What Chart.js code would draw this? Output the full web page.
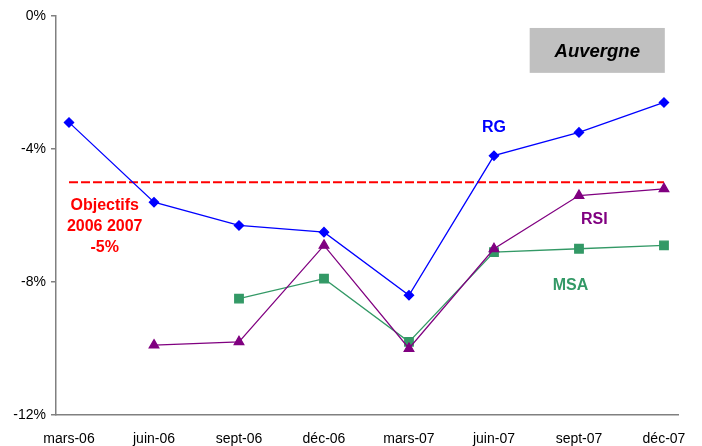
<!DOCTYPE html>
<html><head><meta charset="utf-8">
<script src="https://cdn.jsdelivr.net/npm/chart.js@4.4.1/dist/chart.umd.min.js"></script>
<style>html,body{margin:0;padding:0;background:#fff;}#wrap{width:702px;height:446px;}</style>
</head><body><div id="wrap"><canvas id="c" width="702" height="446"></canvas></div>
<script>
const categories = ["mars-06","juin-06","sept-06","déc-06","mars-07","juin-07","sept-07","déc-07"];
const rgValues  = [-3.2, -5.6, -6.3, -6.5, -8.4, -4.2, -3.5, -2.6];
const rsiValues = [null, -9.9, -9.8, -6.9, -10.0, -7.0, -5.4, -5.2];
const msaValues = [null, null, -8.5, -7.9, -9.8, -7.1, -7.0, -6.9];
const objectiveValue = -5;
const yTicks = [0, -4, -8, -12];

const toPts = arr => arr.map((v,i)=>({x:i,y:v})).filter(p=>p.y!==null);
const FONT = "'Liberation Sans', Arial, sans-serif";

const labelsPlugin = {
  id:'labels',
  afterDatasetsDraw(chart){
    const {ctx, scales:{x,y}} = chart;
    ctx.save();
    // Auvergne box
    const bx0 = x.getPixelForValue(5.42), bx1 = x.getPixelForValue(7.01);
    const by0 = y.getPixelForValue(-0.36), by1 = y.getPixelForValue(-1.71);
    ctx.fillStyle = '#C0C0C0';
    ctx.fillRect(bx0, by0, bx1-bx0, by1-by0);
    ctx.fillStyle = '#000';
    ctx.font = "italic bold 18.5px " + FONT;
    ctx.textAlign='center'; ctx.textBaseline='middle';
    ctx.fillText('Auvergne', (bx0+bx1)/2, (by0+by1)/2+1);
    ctx.font = "bold 16px " + FONT;
    ctx.fillStyle = '#0000FF';
    ctx.fillText('RG', x.getPixelForValue(5.0), y.getPixelForValue(-3.36));
    ctx.fillStyle = '#800080';
    ctx.fillText('RSI', x.getPixelForValue(6.18), y.getPixelForValue(-6.12));
    ctx.fillStyle = '#339966';
    ctx.fillText('MSA', x.getPixelForValue(5.9), y.getPixelForValue(-8.1));
    ctx.fillStyle = '#FF0000';
    const ox = x.getPixelForValue(0.42);
    ctx.fillText('Objectifs', ox, y.getPixelForValue(-5.69));
    ctx.fillText('2006 2007', ox, y.getPixelForValue(-6.34));
    ctx.fillText('-5%', ox, y.getPixelForValue(-6.97));
    ctx.restore();
  }
};

new Chart(document.getElementById('c'), {
  type:'line',
  data:{
    datasets:[
      {label:'Objectifs', data:[{x:0,y:objectiveValue},{x:categories.length-1,y:objectiveValue}],
       borderColor:'#FF0000', borderWidth:2, borderDash:[9,3], pointRadius:0, order:4},
      {label:'MSA', data:toPts(msaValues), borderColor:'#339966', backgroundColor:'#339966',
       borderWidth:1.3, pointStyle:'rect', pointRadius:6, pointHoverRadius:6, order:3},
      {label:'RSI', data:toPts(rsiValues), borderColor:'#800080', backgroundColor:'#800080',
       borderWidth:1.3, pointStyle:'triangle', pointRadius:5.5, pointHoverRadius:5.5, order:2},
      {label:'RG', data:toPts(rgValues), borderColor:'#0000FF', backgroundColor:'#0000FF',
       borderWidth:1.3, pointStyle:'rectRot', pointRadius:4.6, pointHoverRadius:4.6, order:1}
    ]
  },
  options:{
    responsive:false, animation:false,
    layout:{padding:{top:16,right:24,left:0,bottom:0}},
    plugins:{legend:{display:false}, tooltip:{enabled:false}},
    scales:{
      x:{type:'linear', min:-0.153, max:7.165,
         afterBuildTicks(s){ s.ticks = categories.map((c,i)=>({value:i})); },
         afterFit(s){ s.height = 31; },
         ticks:{callback:(v)=>categories[v] ?? '', color:'#000', font:{family:FONT,size:14}, padding:8, maxRotation:0, autoSkip:false},
         grid:{display:false},
         border:{display:true,color:'#808080',width:1.5}},
      y:{min:-12, max:0,
         afterBuildTicks(s){ s.ticks = yTicks.map(v=>({value:v})); },
         afterFit(s){ s.width = 56; },
         ticks:{callback:(v)=>v+'%', color:'#000', font:{family:FONT,size:14}, padding:5},
         grid:{display:true, drawOnChartArea:false, drawTicks:true, tickLength:5, color:'#808080', lineWidth:1.5},
         border:{display:true,color:'#808080',width:1.5}}
    }
  },
  plugins:[labelsPlugin]
});
</script></body></html>
